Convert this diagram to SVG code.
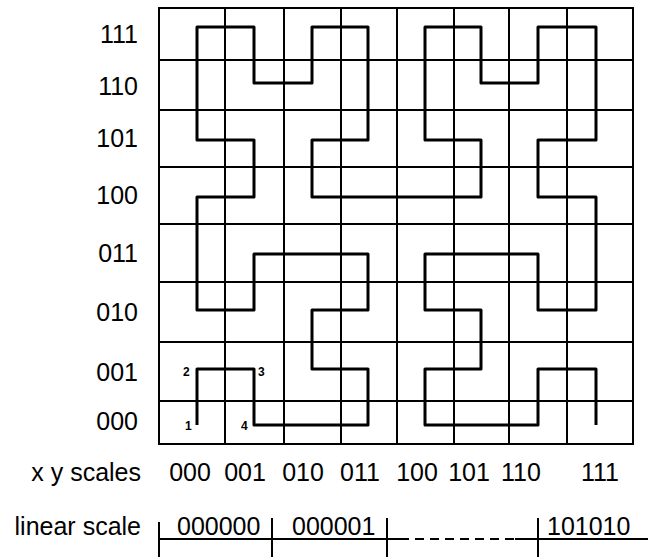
<svg xmlns="http://www.w3.org/2000/svg" width="648" height="557" viewBox="0 0 648 557">
<style>
.grid{stroke:#000;stroke-width:2;fill:none;stroke-linecap:square}
.curve{stroke:#000;stroke-width:3;fill:none;stroke-linejoin:round;stroke-linecap:butt}
.lbl{font-family:"Liberation Sans",Arial,Helvetica,sans-serif;font-size:25px;fill:#000}
.num{font-family:"Liberation Sans",Arial,Helvetica,sans-serif;font-size:12px;font-weight:bold;fill:#000}
.scale{stroke:#000;stroke-width:2;fill:none}
</style>
<rect width="648" height="557" fill="#fff"/>
<g id="grid" class="grid">
<rect x="159" y="8" width="474" height="436"/>
<path d="M225,8V444M284,8V444M341,8V444M397,8V444M454,8V444M509,8V444M567,8V444"/>
<path d="M159,60H633M159,110H633M159,167H633M159,224H633M159,282H633M159,342H633M159,401H633"/>
</g>
<g id="connectors">
<path id="curve" class="curve" d="M197,425V369H254V425H368V369H312V310H368V254H254V310H197V197H254V140H197V27H254V83H312V27H368V140H312V197H481V140H425V27H481V83H538V27H596V140H538V197H596V310H538V254H425V310H481V369H425V425H538V369H596V425"/>
</g>
<g id="point-labels" class="num">
<text x="185" y="430">1</text>
<text x="183" y="376">2</text>
<text x="258" y="376">3</text>
<text x="241" y="430">4</text>
</g>
<g id="y-labels" class="lbl" text-anchor="end">
<text x="138" y="43">111</text>
<text x="138" y="95">110</text>
<text x="138" y="147">101</text>
<text x="138" y="204">100</text>
<text x="138" y="262">011</text>
<text x="138" y="321">010</text>
<text x="138" y="381">001</text>
<text x="138" y="430">000</text>
</g>
<g id="x-labels" class="lbl" text-anchor="middle">
<text x="141" y="481" text-anchor="end">x y scales</text>
<text x="190" y="481">000</text>
<text x="245" y="481">001</text>
<text x="303" y="481">010</text>
<text x="360" y="481">011</text>
<text x="417" y="481">100</text>
<text x="469" y="481">101</text>
<text x="521" y="481">110</text>
<text x="600" y="481">111</text>
</g>
<g id="linear-scale">
<text class="lbl" x="141" y="535" text-anchor="end">linear scale</text>
<path class="scale" d="M159,539H400M515,539H648"/>
<path class="scale" d="M400,539H515" stroke-dasharray="9,6"/>
<path class="scale" d="M159,522V557M272,518V557M387,518V557M538,518V557"/>
<text class="lbl" x="177" y="535">000000</text>
<text class="lbl" x="292" y="535">000001</text>
<text class="lbl" x="547" y="535">101010</text>
</g>
</svg>
